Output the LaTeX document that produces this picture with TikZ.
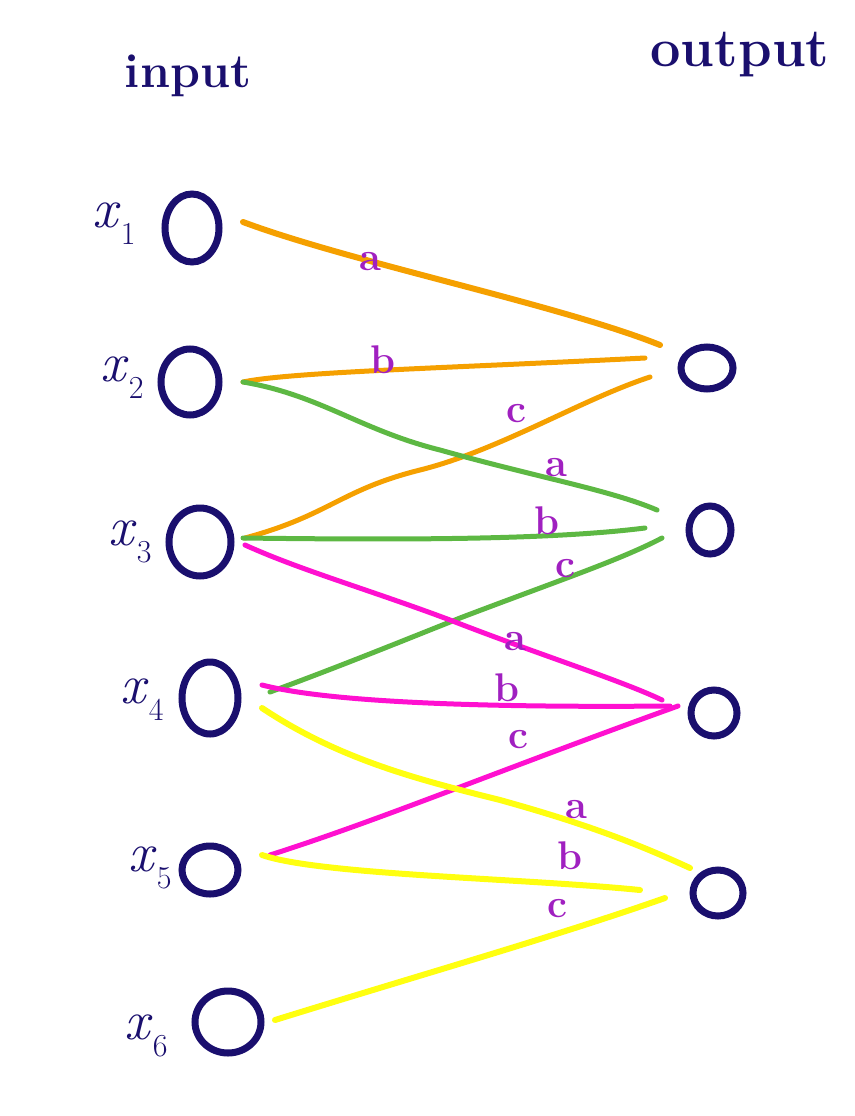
\documentclass[tikz,border=0pt]{standalone}
\usetikzlibrary{shapes.geometric,calc}
\definecolor{navy}{HTML}{1A0F6E}
\definecolor{eorange}{HTML}{F5A000}
\definecolor{egreen}{HTML}{5DB843}
\definecolor{emag}{HTML}{FF10D0}
\definecolor{eyel}{HTML}{FFFF10}
\definecolor{lab}{HTML}{A020C0}
\newcommand{\vx}[1]{\textit{x}\raisebox{-0.3em}{\fontsize{32}{32}\selectfont #1}}
\begin{document}
\begin{tikzpicture}[x=1pt,y=-1pt,
  unit/.style={ellipse,draw=navy,line width=7pt,inner sep=0pt},
  vname/.style={text=navy,font=\fontsize{56}{56}\selectfont,inner sep=0pt},
  head/.style={text=navy,font=\bfseries\fontsize{48}{48}\selectfont},
  elab/.style={text=lab,font=\bfseries\fontsize{40}{40}\selectfont,inner sep=0pt},
  edge/.style={line width=5pt,line cap=round,line join=round},
  eo/.style={edge,draw=eorange},
  eg/.style={edge,draw=egreen},
  em/.style={edge,draw=emag},
  ey/.style={edge,draw=eyel}]
\useasboundingbox (0,0) rectangle (854,1116);
% headings
\node[head] (hin) at (188,76) {input};
\node[head,font=\bfseries\fontsize{54}{54}\selectfont] (hout) at (740,55) {output};
% input units
\node[unit,minimum width=54pt,minimum height=68pt] (i1) at (192,228) {};
\node[unit,minimum width=58pt,minimum height=66pt] (i2) at (190,382) {};
\node[unit,minimum width=62pt,minimum height=68pt] (i3) at (200,542) {};
\node[unit,minimum width=56pt,minimum height=72pt] (i4) at (210,698) {};
\node[unit,minimum width=56pt,minimum height=48pt] (i5) at (210,870) {};
\node[unit,minimum width=66pt,minimum height=62pt] (i6) at (228,1022) {};
% output units
\node[unit,minimum width=52pt,minimum height=42pt] (o1) at (707,368) {};
\node[unit,minimum width=42pt,minimum height=48pt] (o2) at (710,530) {};
\node[unit,minimum width=46pt,minimum height=46pt] (o3) at (714,713) {};
\node[unit,minimum width=50pt,minimum height=46pt] (o4) at (718,893) {};
% input names
\node[vname] (n1) at (114,224) {\vx{1}};
\node[vname] (n2) at (122,378) {\vx{2}};
\node[vname] (n3) at (130,542) {\vx{3}};
\node[vname] (n4) at (142,700) {\vx{4}};
\node[vname] (n5) at (150,868) {\vx{5}};
\node[vname] (n6) at (146,1036) {\vx{6}};
% orange edges
\draw[eo,line width=6pt] ($(i1)+(51,-6)$) .. controls (350,262) and (560,305) .. ($(o1)+(-47,-23)$);
\draw[eo] ($(i2)+(53,0)$) .. controls (290,372) and (450,368) .. ($(o1)+(-62,-10)$);
\draw[eo] ($(i3)+(45,-4)$) .. controls (330,515) and (340,490) .. (420,470) .. controls (500,450) and (580,400) .. ($(o1)+(-57,9)$);
% green edges
\draw[eg] ($(i2)+(53,0)$) .. controls (320,395) and (360,430) .. (440,450) .. controls (540,478) and (610,490) .. ($(o2)+(-53,-20)$);
\draw[eg] ($(i3)+(43,-4)$) .. controls (400,540) and (550,540) .. ($(o2)+(-65,-2)$);
\draw[eg] ($(i4)+(60,-6)$) .. controls (330,670) and (380,650) .. (460,618) .. controls (560,580) and (620,560) .. ($(o2)+(-48,8)$);
% magenta edges
\draw[em] ($(i3)+(45,3)$) .. controls (300,570) and (370,590) .. (450,620) .. controls (540,655) and (620,680) .. ($(o3)+(-52,-13)$);
\draw[em] ($(i4)+(52,-13)$) .. controls (320,700) and (450,708) .. ($(o3)+(-44,-7)$);
\draw[em] ($(i5)+(60,-15)$) .. controls (380,820) and (500,770) .. ($(o3)+(-36,-7)$);
% yellow edges
\draw[ey,line width=6pt] ($(i4)+(52,10)$) .. controls (340,760) and (420,780) .. (500,800) .. controls (590,825) and (640,845) .. ($(o4)+(-28,-25)$);
\draw[ey,line width=6pt] ($(i5)+(52,-15)$) .. controls (320,875) and (520,878) .. ($(o4)+(-78,-3)$);
\draw[ey,line width=6pt] ($(i6)+(47,-2)$) .. controls (420,975) and (560,935) .. ($(o4)+(-53,5)$);
% edge labels
\node[elab] (la1) at (370,262) {a};
\node[elab] (lb1) at (383,360) {b};
\node[elab] (lc1) at (516,414) {c};
\node[elab] (la2) at (556,468) {a};
\node[elab] (lb2) at (547,521) {b};
\node[elab] (lc2) at (565,569) {c};
\node[elab] (la3) at (515,642) {a};
\node[elab] (lb3) at (507,688) {b};
\node[elab] (lc3) at (518,740) {c};
\node[elab] (la4) at (576,810) {a};
\node[elab] (lb4) at (570,856) {b};
\node[elab] (lc4) at (557,909) {c};
\end{tikzpicture}
\end{document}
